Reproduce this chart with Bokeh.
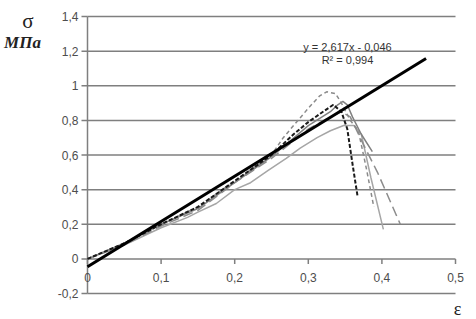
from bokeh.plotting import figure
from bokeh.models import Label, ColumnDataSource
from bokeh.core.properties import value
from bokeh.embed import file_html
from bokeh.resources import INLINE

# ---- data ----
xticks = [0.0, 0.1, 0.2, 0.3, 0.4, 0.5]
xlabels = ["0", "0,1", "0,2", "0,3", "0,4", "0,5"]
yticks = [-0.2, 0.0, 0.2, 0.4, 0.6, 0.8, 1.0, 1.2, 1.4]
ylabels = ["-0,2", "0", "0,2", "0,4", "0,6", "0,8", "1", "1,2", "1,4"]

slope = 2.617
intercept = -0.046
r2 = 0.994
reg_x = [0.0, 0.46]

a_x = [0.0, 0.05, 0.10, 0.15, 0.20, 0.25, 0.266, 0.28, 0.30, 0.315, 0.325, 0.337, 0.345, 0.357, 0.368, 0.379, 0.389]
a_y = [0.0, 0.09, 0.20, 0.30, 0.45, 0.60, 0.70, 0.77, 0.87, 0.94, 0.965, 0.955, 0.90, 0.80, 0.74, 0.52, 0.30]

b_x = [0.0, 0.05, 0.10, 0.15, 0.20, 0.25, 0.28, 0.30, 0.32, 0.334, 0.345, 0.353, 0.360, 0.367]
b_y = [0.0, 0.09, 0.20, 0.30, 0.45, 0.60, 0.72, 0.79, 0.85, 0.89, 0.85, 0.75, 0.55, 0.36]

c_x = [0.0, 0.05, 0.10, 0.136, 0.15, 0.175, 0.20, 0.2215, 0.245, 0.27, 0.289, 0.312, 0.33, 0.348, 0.362, 0.372, 0.385, 0.402]
c_y = [0.0, 0.08, 0.18, 0.24, 0.27, 0.32, 0.40, 0.44, 0.51, 0.58, 0.64, 0.70, 0.74, 0.77, 0.77, 0.72, 0.47, 0.17]

d_x = [0.0, 0.05, 0.10, 0.15, 0.20, 0.25, 0.30, 0.33, 0.34, 0.347, 0.353, 0.360, 0.372, 0.387]
d_y = [0.0, 0.09, 0.20, 0.29, 0.44, 0.59, 0.77, 0.85, 0.89, 0.91, 0.89, 0.82, 0.72, 0.62]

e_x = [0.0, 0.05, 0.10, 0.15, 0.20, 0.25, 0.30, 0.33, 0.345, 0.357, 0.375, 0.394, 0.425]
e_y = [0.0, 0.08, 0.19, 0.28, 0.44, 0.58, 0.75, 0.82, 0.85, 0.82, 0.66, 0.50, 0.20]

# ---- layout (pixels) ----
W, H = 476, 319
LEFT, RIGHT, TOP, BOTTOM = 87, 21, 16, 26
X0, X1 = xticks[0], xticks[-1]
Y0, Y1 = yticks[0], yticks[-1]
sx = (X1 - X0) / (W - LEFT - RIGHT)   # data units per pixel
sy = (Y1 - Y0) / (H - TOP - BOTTOM)

def px2x(cx):
    return X0 + (cx - LEFT) * sx

def px2y(cy):
    return Y1 - (cy - TOP) * sy

p = figure(width=W, height=H,
           x_range=(X0 - LEFT * sx, X1 + RIGHT * sx),
           y_range=(Y0 - BOTTOM * sy, Y1 + TOP * sy),
           x_axis_type=None, y_axis_type=None,
           output_backend="svg", toolbar_location=None,
           min_border=0)
p.outline_line_color = None
p.background_fill_color = "white"
p.border_fill_color = "white"

GRAY = "#7f7f7f"
TXT = "#4d4d4d"
FONT = value("Liberation Sans")

# horizontal gridlines
n = len(yticks)
p.segment(x0=[X0] * n, y0=yticks, x1=[X1] * n, y1=yticks, line_color=GRAY, line_width=1.5)

# y axis line + ticks + labels
p.segment(x0=[X0], y0=[Y0], x1=[X0], y1=[Y1], line_color=GRAY, line_width=1.5)
p.segment(x0=[X0 - 6 * sx] * n, y0=yticks, x1=[X0] * n, y1=yticks, line_color=GRAY, line_width=1.5)
ysrc = ColumnDataSource(dict(x=[X0] * n, y=yticks, t=ylabels))
p.text(x="x", y="y", text="t", source=ysrc, x_offset=-9, text_align="right",
       text_baseline="middle", text_font=FONT, text_font_size="12px", text_color=TXT)

# x axis (at y = 0) ticks + labels
m = len(xticks)
p.segment(x0=xticks, y0=[0.0] * m, x1=xticks, y1=[-5 * sy] * m, line_color=GRAY, line_width=1.5)
xsrc = ColumnDataSource(dict(x=xticks, y=[0.0] * m, t=xlabels))
p.text(x="x", y="y", text="t", source=xsrc, y_offset=19, text_align="center",
       text_baseline="middle", text_font=FONT, text_font_size="12px", text_color=TXT)

# experimental curves
p.line(c_x, c_y, line_color="#a6a6a6", line_width=1.5)
p.line(d_x, d_y, line_color="#808080", line_width=1.5)
p.line(e_x, e_y, line_color="#8c8c8c", line_width=1.5, line_dash="10 5")
p.line(a_x, a_y, line_color="#8a8a8a", line_width=1.5, line_dash="4 3")
p.line(b_x, b_y, line_color="#1a1a1a", line_width=2, line_dash="4 2")

# regression line
reg_y = [slope * x + intercept for x in reg_x]
p.line(reg_x, reg_y, line_color="black", line_width=3)

# annotations
eq = "y = " + ("%.3f" % slope).replace(".", ",") + "x - " + ("%.3f" % abs(intercept)).replace(".", ",")
rr = "R\u00b2 = " + ("%.3f" % r2).replace(".", ",")
p.add_layout(Label(x=px2x(347), y=px2y(46), text=eq, text_align="center", text_baseline="middle",
                   text_font="Liberation Sans", text_font_size="11px", text_color="#333333"))
p.add_layout(Label(x=px2x(347), y=px2y(59.5), text=rr, text_align="center", text_baseline="middle",
                   text_font="Liberation Sans", text_font_size="11px", text_color="#333333"))

p.add_layout(Label(x=px2x(27.5), y=px2y(20), text="\u03c3", text_align="center", text_baseline="middle",
                   text_font="Liberation Serif", text_font_size="21px", text_color="#222222"))
p.add_layout(Label(x=px2x(22), y=px2y(41.5), text="\u041c\u041f\u0430", text_align="center", text_baseline="middle",
                   text_font="Liberation Serif", text_font_size="17px", text_font_style="bold italic",
                   text_color="#222222"))
p.add_layout(Label(x=px2x(457), y=px2y(318), text="\u03b5", text_align="center", text_baseline="bottom",
                   text_font="Liberation Serif", text_font_size="18px", text_color="#222222"))

open("out.html", "w").write(file_html(p, INLINE))
